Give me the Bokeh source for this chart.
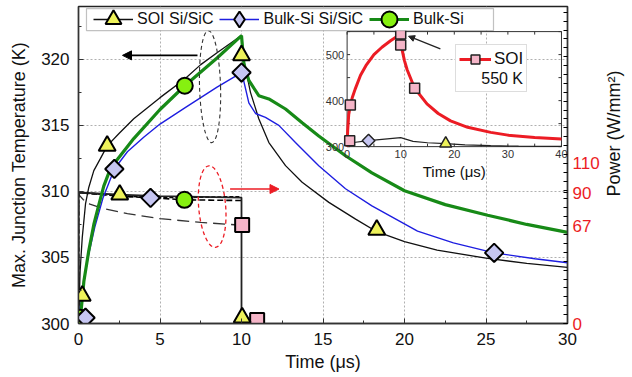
import math
from bokeh.plotting import figure
from bokeh.layouts import row
from bokeh.models import (Range1d, LinearAxis, FixedTicker, SingleIntervalTicker, Legend,
                          LegendItem, Arrow, NormalHead, BoxAnnotation)
from bokeh.core.properties import value
from bokeh.embed import file_html
from bokeh.resources import INLINE

# ---------------- data ----------------
# Max. junction temperature (K) vs time (us)
time_soi_sic = [0, 0.05, 0.1, 0.23, 0.43, 0.63, 0.94, 1.35, 1.76, 2.5, 3.39, 5.0, 6.5, 7.5, 8.5, 10.0,
                10.15, 10.55, 11.06, 11.68, 12.7, 13.72, 15.36, 17.0, 18.3, 20.0, 22.0, 25.0, 27.5, 30.0]
temp_soi_sic = [300, 302.0, 304.0, 306.5, 309.05, 310.3, 311.57, 312.5, 313.45, 314.4, 315.5, 317.1, 318.5, 319.6, 320.5, 321.8,
                319.9, 317.5, 315.5, 313.7, 311.95, 310.7, 309.17, 307.9, 306.95, 306.2, 305.55, 304.95, 304.55, 304.25]

time_bulk_sic = [0, 0.1, 0.3, 0.6, 1.0, 1.5, 2.2, 3.0, 4.0, 5.0, 6.5, 7.5, 8.5, 10.0,
                 10.15, 10.45, 10.86, 11.47, 12.29, 13.31, 14.74, 16.38, 18.0, 20.8, 23.0, 25.5, 28.0, 30.0]
temp_bulk_sic = [300, 301.1, 303.0, 305.1, 307.3, 309.5, 311.7, 313.0, 314.1, 315.1, 316.3, 317.1, 317.9, 319.0,
                 318.3, 316.7, 315.9, 315.6, 315.0, 313.7, 311.95, 310.2, 308.9, 307.0, 306.1, 305.35, 304.9, 304.6]

time_bulk = [0, 0.12, 0.33, 0.63, 0.94, 1.25, 1.55, 1.86, 2.37, 3.39, 5.0, 6.52, 8.5, 10.0,
             10.15, 10.45, 11.06, 11.68, 12.7, 13.72, 14.74, 16.38, 18.0, 20.0, 22.5, 25.1, 27.5, 30.0]
temp_bulk = [300, 300.45, 303.2, 305.5, 307.5, 309.0, 310.4, 311.4, 312.4, 314.0, 316.2, 318.0, 320.1, 321.8,
             319.65, 318.4, 317.25, 317.0, 316.24, 315.2, 314.2, 312.7, 311.4, 310.05, 309.0, 308.2, 307.5, 306.9]

# markers on the temperature curves
mk_soi_sic_t = [1.76, 10.0, 18.3]
mk_soi_sic_T = [313.45, 320.3, 307.1]
mk_bulk_sic_t = [2.2, 10.0, 25.5]
mk_bulk_sic_T = [311.7, 319.0, 305.35]
mk_bulk_t = [6.52]
mk_bulk_T = [318.0]

# Power density (W/mm^2) vs time (us)
pw_time_soi_sic = [0, 0, 2.5, 5.0, 7.5, 10.0, 10.0, 11.0]
pw_soi_sic = [0, 90, 88.5, 87.5, 87.0, 86.5, 0, 0]
pw_time_bulk_sic = [0, 0, 2.5, 4.4, 7.5, 10.0]
pw_bulk_sic = [0, 90, 88.0, 86.5, 86.8, 87.0]
pw_time_bulk = [0, 0, 2.5, 5.0, 6.5, 10.0]
pw_bulk = [0, 90, 87.5, 86.0, 85.0, 84.5]
pw_time_soi = [0, 0, 0.1, 0.3, 0.7, 1.5, 3.0, 5.0, 7.5, 10.0]
pw_soi = [0, 89, 87.5, 85.0, 82.0, 79.0, 75.5, 72.0, 69.5, 67.5]

# markers on the power curves
pmk_soi_sic_t = [0.23, 2.53, 10.04]
pmk_soi_sic_p = [19, 88.5, 4]
pmk_bulk_sic_t = [0.43, 4.42]
pmk_bulk_sic_p = [4, 86.3]
pmk_bulk_t = [0.12, 6.5]
pmk_bulk_p = [4, 85.0]
pmk_soi_t = [10.04, 10.96]
pmk_soi_p = [67.6, 2.4]

power_ticks = [0, 67, 90, 110]

# Inset: SOI reaching 550 K
ins_time_soi = [0, 0.1, 0.3, 0.6, 1.0, 1.5, 2.5, 3.5, 5.0, 6.5, 8.1, 10.0,
                10.05, 10.3, 10.7, 11.2, 12.6, 14.9, 17.0, 19.3, 22.5, 26.8, 30.0, 35.0, 40.0]
ins_temp_soi = [300, 335, 370, 390, 408, 425, 455, 476, 500, 516, 530, 545,
                530, 508, 487, 467, 427, 393, 372, 356, 342, 331, 325, 320, 316.7]
ins_time_other = [0, 1.2, 4.0, 7.0, 9.5, 10.0, 12.3, 15.0, 18.4, 22.0, 26.8, 32.0, 40.0]
ins_temp_other = [304, 309, 313, 316.5, 319, 319.5, 311.6, 308.5, 306.5, 304, 302, 301, 300.5]
ins_sq_t = [0.48, 0.6, 10.0, 10.0, 12.6]
ins_sq_T = [313, 390.6, 545, 521, 427]
ins_dia_t = [4.0]
ins_dia_T = [313]
ins_tri_t = [18.4]
ins_tri_T = [306.5]
ins_xticks = [0, 10, 20, 30, 40]
ins_yticks = [300, 400, 500]

# ---------------- styling ----------------
FONT = "Liberation Sans"
GREEN = "#178a17"
BLUE = "#1e1ee0"
RED = "#ec1c24"
TRI_FILL = "#eef25a"
DIA_FILL = "#c6c6f2"
CIR_FILL = "#86f010"
SQ_FILL = "#f5b5c8"

p = figure(width=602, height=377, output_backend="svg", toolbar_location=None,
           x_range=Range1d(0, 30), y_range=Range1d(300, 324),
           min_border_left=78, min_border_right=35, min_border_top=6, min_border_bottom=54,
           background_fill_color="white", border_fill_color="white")
p.outline_line_color = "#222222"
p.outline_line_width = 1.4

p.extra_y_ranges = {"pw": Range1d(0, 24 * 110 / 12.12)}

for ax in (p.xaxis[0], p.yaxis[0]):
    ax.ticker = SingleIntervalTicker(interval=5, num_minor_ticks=2)
    ax.major_tick_in = 5
    ax.major_tick_out = 0
    ax.minor_tick_in = 3
    ax.minor_tick_out = 0
    ax.axis_line_color = "#333333"
    ax.major_tick_line_color = "#333333"
    ax.minor_tick_line_color = "#333333"
    ax.axis_line_width = 1.4
    ax.major_label_text_font = FONT
    ax.major_label_text_font_size = "17px"
    ax.major_label_text_color = "#111111"
    ax.axis_label_text_font = FONT
    ax.axis_label_text_font_size = "18px"
    ax.axis_label_text_font_style = "normal"
    ax.axis_label_text_color = "#111111"
    ax.major_label_standoff = 9

p.xaxis.axis_label = "Time (\u03bcs)"
p.xaxis.axis_label_standoff = 4
p.yaxis.axis_label = "Max. Junction Temperature (K)"
p.yaxis.axis_label_standoff = 9

pw_axis = LinearAxis(y_range_name="pw",
                     ticker=FixedTicker(ticks=power_ticks,
                                        minor_ticks=[k * 110 / 18 for k in range(36)]))
pw_axis.major_tick_in = 4
pw_axis.major_tick_out = 0
pw_axis.minor_tick_in = 4
pw_axis.minor_tick_out = 0
pw_axis.axis_line_color = "#333333"
pw_axis.axis_line_width = 1.4
pw_axis.major_label_text_font = FONT
pw_axis.major_label_text_font_size = "17px"
pw_axis.major_label_text_color = RED
pw_axis.major_label_standoff = 5
p.add_layout(pw_axis, "right")

p.xgrid.grid_line_color = "#b0b0b0"
p.ygrid.grid_line_color = "#b0b0b0"
p.xgrid.grid_line_dash = "2 2"
p.ygrid.grid_line_dash = "2 2"

# ---------------- power curves (right axis) ----------------
p.line(pw_time_soi, pw_soi, y_range_name="pw", line_color="#333333", line_width=1.3, line_dash="12 6")
p.line(pw_time_bulk, pw_bulk, y_range_name="pw", line_color="black", line_width=1.6, line_dash="6 3")
p.line(pw_time_bulk_sic, pw_bulk_sic, y_range_name="pw", line_color="black", line_width=1.8, line_dash="4 2")
p.line(pw_time_soi_sic, pw_soi_sic, y_range_name="pw", line_color="#222222", line_width=1.8)

# ---------------- temperature curves ----------------
l_soi_sic = p.line(time_soi_sic, temp_soi_sic, line_color="#111111", line_width=1.3)
l_bulk_sic = p.line(time_bulk_sic, temp_bulk_sic, line_color=BLUE, line_width=1.4)
l_bulk = p.line(time_bulk, temp_bulk, line_color=GREEN, line_width=3.2)

# annotations: ellipses and arrows
p.ellipse(x=[8.07], y=[317.93], width=21, height=112, width_units="screen", height_units="screen",
          angle=0.03, fill_alpha=0, line_color="#333333", line_dash="4 3", line_width=1.1)
p.ellipse(x=[8.2], y=[308.85], width=27, height=82, width_units="screen", height_units="screen",
          angle=0.08, fill_alpha=0, line_color=RED, line_dash="4 3", line_width=1.3)
p.add_layout(Arrow(end=NormalHead(size=9, fill_color="black", line_color="black"),
                   x_start=7.3, y_start=320.3, x_end=2.7, y_end=320.3,
                   line_color="black", line_width=1.6))
p.add_layout(Arrow(end=NormalHead(size=9, fill_color=RED, line_color=RED),
                   x_start=9.3, y_start=310.18, x_end=12.3, y_end=310.18,
                   line_color=RED, line_width=1.6))

# ---------------- markers ----------------
p.scatter(pmk_soi_t, pmk_soi_p, y_range_name="pw", marker="square", size=14,
          fill_color=SQ_FILL, line_color="black", line_width=2)
p.scatter(pmk_bulk_t, pmk_bulk_p, y_range_name="pw", marker="circle", size=16,
          fill_color=CIR_FILL, line_color="black", line_width=2)
p.scatter(pmk_bulk_sic_t, pmk_bulk_sic_p, y_range_name="pw", marker="square", angle=math.pi / 4, size=13,
          fill_color=DIA_FILL, line_color="black", line_width=2)
p.scatter(pmk_soi_sic_t, pmk_soi_sic_p, y_range_name="pw", marker="triangle", size=17,
          fill_color=TRI_FILL, line_color="black", line_width=2)

m_soi_sic = p.scatter(mk_soi_sic_t, mk_soi_sic_T, marker="triangle", size=17,
                      fill_color=TRI_FILL, line_color="black", line_width=2)
# diamond glyph used for the legend swatch (legend swatches ignore marker angle);
# it is fully covered by the rotated squares drawn on top of it
m_bulk_sic_leg = p.scatter(mk_bulk_sic_t, mk_bulk_sic_T, marker="diamond", size=15,
                           fill_color=DIA_FILL, line_color="black", line_width=2)
m_bulk_sic = p.scatter(mk_bulk_sic_t, mk_bulk_sic_T, marker="square", angle=math.pi / 4, size=13,
                       fill_color=DIA_FILL, line_color="black", line_width=2)
m_bulk = p.scatter(mk_bulk_t, mk_bulk_T, marker="circle", size=16,
                   fill_color=CIR_FILL, line_color="black", line_width=2)

# ---------------- inset ----------------
ins_xr = Range1d(0, 40)
ins_yr = Range1d(300, 550)
ins = p.subplot(x_source=ins_xr, y_source=ins_yr,
                x_target=Range1d(16.48, 29.63), y_target=Range1d(313.39, 322.1))
ins.quad(left=[ins_xr.start], right=[ins_xr.end], bottom=[ins_yr.start], top=[ins_yr.end],
         fill_alpha=0, line_color="#333333", line_width=1)
# inset ticks
itx = [0, 5, 10, 15, 20, 25, 30, 35, 40]
ity = [300, 350, 400, 450, 500, 550]
ins.ray(x=itx, y=[ins_yr.start] * len(itx), length=3, length_units="screen", angle=math.pi / 2,
        line_color="#333333", line_width=1)
ins.ray(x=itx, y=[ins_yr.end] * len(itx), length=3, length_units="screen", angle=-math.pi / 2,
        line_color="#333333", line_width=1)
ins.ray(x=[ins_xr.start] * len(ity), y=ity, length=3, length_units="screen", angle=0,
        line_color="#333333", line_width=1)
ins.ray(x=[ins_xr.end] * len(ity), y=ity, length=3, length_units="screen", angle=math.pi,
        line_color="#333333", line_width=1)
ins.text(x=ins_xticks, y=[ins_yr.start] * len(ins_xticks), text=[str(v) for v in ins_xticks],
         text_align="center", text_baseline="top", y_offset=3,
         text_font=value(FONT), text_font_size="11px", text_color="#333333")
ins.text(x=[ins_xr.start] * len(ins_yticks), y=ins_yticks, text=[str(v) for v in ins_yticks],
         text_align="right", text_baseline="middle", x_offset=-3,
         text_font=value(FONT), text_font_size="11px", text_color="#333333")
ins.text(x=[20], y=[ins_yr.start], text=["Time (\u03bcs)"], text_align="center", text_baseline="top",
         y_offset=16, text_font=value(FONT), text_font_size="15px", text_color="#111111")

ins.line(ins_time_other, ins_temp_other, line_color="#222222", line_width=1.2)
l_ins_soi = ins.line(ins_time_soi, ins_temp_soi, line_color=RED, line_width=3)
m_ins_sq = ins.scatter(ins_sq_t, ins_sq_T, marker="square", size=10,
                       fill_color=SQ_FILL, line_color="#222222", line_width=1.5)
ins.scatter(ins_dia_t, ins_dia_T, marker="square", angle=math.pi / 4, size=9,
            fill_color=DIA_FILL, line_color="#222222", line_width=1.5)
ins.scatter(ins_tri_t, ins_tri_T, marker="triangle", size=12,
            fill_color=TRI_FILL, line_color="#222222", line_width=1.5)

p.add_layout(Arrow(end=NormalHead(size=6, fill_color="#222222", line_color="#222222"),
                   x_start=22.2, y_start=320.79, x_end=20.25, y_end=321.75,
                   line_color="#222222", line_width=1.3))

# ---------------- legends ----------------
p.add_layout(BoxAnnotation(left=0.49, right=25.46, bottom=322.17, top=323.84,
                           fill_color="white", fill_alpha=1, line_color="#333333", line_width=1.2))
leg = Legend(items=[LegendItem(label="SOI Si/SiC", renderers=[l_soi_sic, m_soi_sic]),
                    LegendItem(label="Bulk-Si Si/SiC", renderers=[l_bulk_sic, m_bulk_sic_leg]),
                    LegendItem(label="Bulk-Si", renderers=[l_bulk, m_bulk])],
             orientation="horizontal", location=(15, 284), margin=0, padding=0,
             glyph_width=40, glyph_height=40, spacing=6, label_standoff=4,
             label_text_font=FONT, label_text_font_size="16px", label_text_color="#111111",
             border_line_alpha=0, background_fill_alpha=0)
p.add_layout(leg)

leg2 = Legend(items=[LegendItem(label="SOI", renderers=[l_ins_soi, m_ins_sq])],
              title="\u00a0\u00a0\u00a0\u00a0\u00a0550 K", title_location="below", title_standoff=0,
              location=(377, 231), margin=0, padding=3,
              glyph_width=32, glyph_height=22, label_standoff=3,
              label_text_font=FONT, label_text_font_size="17px", label_text_color="#111111",
              title_text_font=FONT, title_text_font_size="16px", title_text_font_style="normal",
              title_text_color="#111111",
              border_line_color="#bbbbbb", background_fill_color="white", background_fill_alpha=1)
p.add_layout(leg2)

# ---------------- right-axis title strip (text reads bottom-to-top) ----------------
strip = figure(width=30, height=377, output_backend="svg", toolbar_location=None,
               x_range=Range1d(0, 30), y_range=Range1d(0, 377),
               x_axis_type=None, y_axis_type=None,
               min_border_left=0, min_border_right=0, min_border_top=0, min_border_bottom=0,
               background_fill_color="white", border_fill_color="white")
strip.outline_line_color = None
strip.grid.visible = False
strip.text(x=[11], y=[226], text=["Power (W/mm\u00b2)"], angle=math.pi / 2,
           text_align="center", text_baseline="middle",
           text_font=value(FONT), text_font_size="18px", text_color="#111111")

layout = row(p, strip, spacing=0)
open("out.html", "w").write(file_html(layout, INLINE))
